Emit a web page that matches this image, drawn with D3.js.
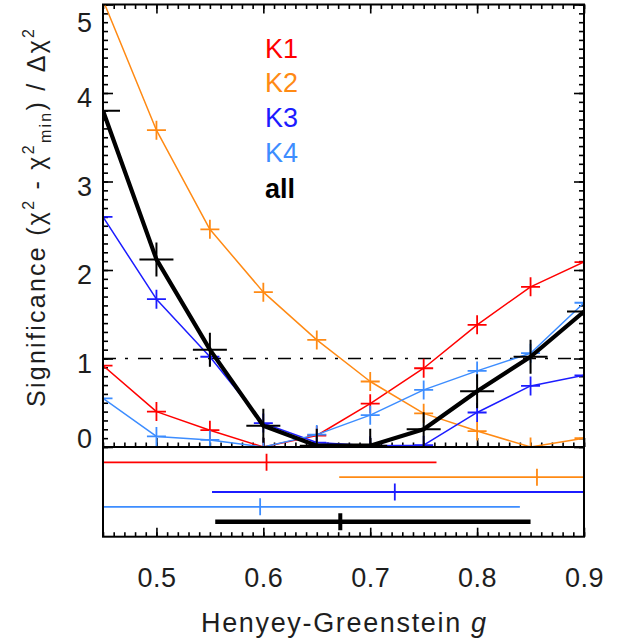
<!DOCTYPE html>
<html>
<head>
<meta charset="utf-8">
<script src="https://cdn.jsdelivr.net/npm/d3@7"></script>
<style>
  html, body { margin: 0; padding: 0; background: #fff; }
  svg { display: block; }
  text { font-family: "Liberation Sans", Arial, Helvetica, sans-serif; }
</style>
</head>
<body>
<script>
// ---------------- data ----------------
const gValues = [0.45, 0.50, 0.55, 0.60, 0.65, 0.70, 0.75, 0.80, 0.85, 0.90];
const seriesNames = ["K1", "K2", "K3", "K4", "all"];
const k1Values  = [0.92, 0.40, 0.19, 0.00, 0.13, 0.49, 0.89, 1.38, 1.81, 2.09];
const k2Values  = [5.05, 3.58, 2.46, 1.75, 1.21, 0.74, 0.38, 0.18, 0.00, 0.10];
const k3Values  = [2.60, 1.67, 1.02, 0.27, 0.05, 0.015, 0.02, 0.39, 0.69, 0.81];
const k4Values  = [0.55, 0.12, 0.08, 0.00, 0.14, 0.36, 0.645, 0.86, 1.06, 1.63];
const allValues = [3.80, 2.12, 1.10, 0.24, 0.015, 0.015, 0.20, 0.63, 1.02, 1.53];
// best-fit g and its range (lower panel)
const bestG = [0.603, 0.856, 0.723, 0.597, 0.672];
const lowG  = [0.40, 0.671, 0.552, 0.40, 0.555];
const highG = [0.762, 0.95, 0.95, 0.840, 0.850];
const xTickValues = [0.5, 0.6, 0.7, 0.8, 0.9];
const yTickValues = [0, 1, 2, 3, 4, 5];
const thresholdLevel = 1;

const colors = { K1: "#ff0000", K2: "#ff8a14", K3: "#1c1cff", K4: "#3d8dff", all: "#000000" };
const allSeries = [k1Values, k2Values, k3Values, k4Values, allValues];

// ---------------- layout ----------------
const W = 626, H = 644;
const L = 103, R = 584, T = 4.5, MB = 447, LB = 536.7;

const x = d3.scaleLinear().domain([0.45, 0.9]).range([L, R]);
const y = d3.scaleLinear().domain([0, 5]).range([MB, T]);
const row = d3.scalePoint().domain(seriesNames).range([462.3, 521.7]);

const svg = d3.select("body").append("svg").attr("width", W).attr("height", H);
const defs = svg.append("defs");
defs.append("clipPath").attr("id", "clipMain").append("rect")
  .attr("x", L).attr("y", T).attr("width", R - L).attr("height", MB - T);
defs.append("clipPath").attr("id", "clipLow").append("rect")
  .attr("x", L).attr("y", MB).attr("width", R - L).attr("height", LB - MB);

// ---------------- axes / ticks ----------------
const minorX = d3.range(45, 91).map(d => d / 100);
const minorY = d3.range(0, 51).map(d => d / 10);

function styleAxis(g) {
  g.select(".domain").remove();
  g.selectAll(".tick line").attr("stroke", "#000").attr("stroke-width", 1.6);
}
function tickAxis(axisFn, scale, values, size, tx, ty) {
  svg.append("g").attr("transform", `translate(${tx},${ty})`)
    .call(axisFn(scale).tickValues(values).tickSize(size).tickFormat(""))
    .call(styleAxis);
}
tickAxis(d3.axisBottom, x, minorX, -4.5, 0, MB);
tickAxis(d3.axisBottom, x, xTickValues, -9, 0, MB);
tickAxis(d3.axisTop, x, minorX, -4.5, 0, T);
tickAxis(d3.axisTop, x, xTickValues, -9, 0, T);
tickAxis(d3.axisLeft, y, minorY, -5, L, 0);
tickAxis(d3.axisLeft, y, yTickValues, -10, L, 0);
tickAxis(d3.axisRight, y, minorY, -5, R, 0);
tickAxis(d3.axisRight, y, yTickValues, -10, R, 0);
tickAxis(d3.axisBottom, x, minorX, -4.5, 0, LB);
tickAxis(d3.axisBottom, x, xTickValues, -9, 0, LB);

// x tick labels
svg.append("g").attr("transform", `translate(0,${LB})`)
  .call(d3.axisBottom(x).tickValues(xTickValues).tickSize(0).tickPadding(31).tickFormat(d3.format(".1f")))
  .call(g => g.select(".domain").remove())
  .call(g => g.selectAll("text").attr("font-size", 27).attr("fill", "#1e1e1e")
        .attr("font-family", "Liberation Sans, Arial, sans-serif").attr("letter-spacing", 0.5));

// y tick labels
svg.append("g").attr("transform", `translate(${L},0)`)
  .call(d3.axisLeft(y).tickValues(yTickValues).tickSize(0).tickPadding(11).tickFormat(d3.format("d")))
  .call(g => g.select(".domain").remove())
  .call(g => g.selectAll("text").attr("font-size", 27).attr("fill", "#1e1e1e")
        .attr("font-family", "Liberation Sans, Arial, sans-serif")
        .attr("dy", 0)
        .attr("y", d => d === 5 ? 26.5 : (d === 0 ? 0 : 13.5)));

// ---------------- main panel ----------------
const main = svg.append("g").attr("clip-path", "url(#clipMain)");

main.append("line")
  .attr("x1", x(0.45)).attr("x2", x(0.9))
  .attr("y1", y(thresholdLevel)).attr("y2", y(thresholdLevel))
  .attr("stroke", "#000").attr("stroke-width", 1.4)
  .attr("stroke-dasharray", "13,9,3,10");

const line = d3.line().x(d => x(d.g)).y(d => y(d.v));
seriesNames.forEach((name, i) => {
  const pts = gValues.map((g, j) => ({ g, v: allSeries[i][j] }));
  const isAll = name === "all";
  main.append("path").datum(pts)
    .attr("d", line)
    .attr("fill", "none")
    .attr("stroke", colors[name])
    .attr("stroke-width", isAll ? 4.2 : 1.5)
    .attr("stroke-linejoin", "round");
  const h = isAll ? 17 : 9.5;
  main.append("g").selectAll("path").data(pts).join("path")
    .attr("d", d => `M${x(d.g) - h},${y(d.v)}H${x(d.g) + h}M${x(d.g)},${y(d.v) - h}V${y(d.v) + h}`)
    .attr("stroke", colors[name])
    .attr("stroke-width", isAll ? 2 : 1.8)
    .attr("fill", "none");
});

// legend
const legendY = [58, 92, 127, 162, 198];
svg.append("g").selectAll("text").data(seriesNames).join("text")
  .attr("x", 265)
  .attr("y", (d, i) => legendY[i])
  .attr("font-size", 27)
  .attr("font-weight", d => d === "all" ? "bold" : "normal")
  .attr("fill", d => colors[d])
  .text(d => d);

// ---------------- lower panel ----------------
const low = svg.append("g").attr("clip-path", "url(#clipLow)");
seriesNames.forEach((name, i) => {
  const isAll = name === "all";
  const yy = row(name);
  low.append("line")
    .attr("x1", x(lowG[i])).attr("x2", x(highG[i]))
    .attr("y1", yy).attr("y2", yy)
    .attr("stroke", colors[name]).attr("stroke-width", isAll ? 4.5 : 1.8);
  low.append("line")
    .attr("x1", x(bestG[i])).attr("x2", x(bestG[i]))
    .attr("y1", yy - 8.5).attr("y2", yy + 8.5)
    .attr("stroke", colors[name]).attr("stroke-width", isAll ? 4 : 1.8);
});

// frames
svg.append("rect").attr("x", L).attr("y", T).attr("width", R - L).attr("height", LB - T)
  .attr("fill", "none").attr("stroke", "#000").attr("stroke-width", 2);
svg.append("line").attr("x1", L).attr("x2", R).attr("y1", MB).attr("y2", MB)
  .attr("stroke", "#000").attr("stroke-width", 2.2);

// ---------------- titles ----------------
const xt = svg.append("text")
  .attr("x", (L + R) / 2).attr("y", 632)
  .attr("text-anchor", "middle")
  .attr("font-size", 27).attr("fill", "#1e1e1e")
  .attr("textLength", 285).attr("lengthAdjust", "spacing");
xt.append("tspan").text("Henyey-Greenstein ");
xt.append("tspan").attr("font-style", "italic").text("g");

const yt = svg.append("text")
  .attr("transform", "translate(45,407) rotate(-90)")
  .attr("x", 0).attr("y", 0)
  .attr("font-size", 25).attr("fill", "#1e1e1e")
  .attr("textLength", 378).attr("lengthAdjust", "spacing");
yt.append("tspan").text("Significance (");
yt.append("tspan").text("χ");
yt.append("tspan").attr("font-size", 16).attr("dy", -11).text("2");
yt.append("tspan").attr("dy", 11).text(" - ");
yt.append("tspan").text("χ");
yt.append("tspan").attr("font-size", 16).attr("dy", -11).text("2");
yt.append("tspan").attr("font-size", 16).attr("dy", 17).text("min");
yt.append("tspan").attr("dy", -6).text(") / Δ");
yt.append("tspan").text("χ");
yt.append("tspan").attr("font-size", 16).attr("dy", -11).text("2");
</script>
</body>
</html>
